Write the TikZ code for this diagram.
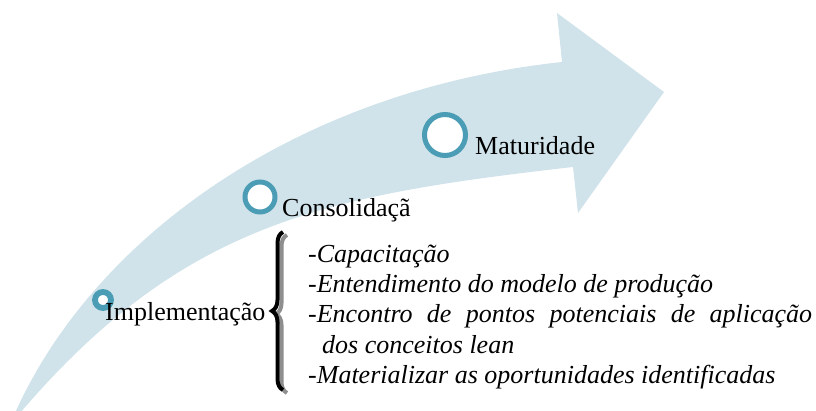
\documentclass[tikz,border=0pt]{standalone}
\usepackage{fontspec}
\setmainfont{Liberation Serif}
\newfontfamily\stagefont{Liberation Serif}
\usetikzlibrary{decorations.pathreplacing}
\definecolor{arrowblue}{HTML}{D1E3EA}
\definecolor{ringteal}{HTML}{4A9DB5}
\definecolor{braceshade}{HTML}{8E8E8E}

\begin{document}
\begin{tikzpicture}[x=1pt,y=-1pt,
    ring/.style={circle, draw=ringteal, fill=white, line width=5pt, inner sep=0pt},
    stagelabel/.style={anchor=base west, inner sep=0pt, font=\stagefont\fontsize{26}{30}\selectfont},
    listitem/.style={anchor=base west, inner sep=0pt, font=\stagefont\fontsize{26}{30}\selectfont\itshape},
    bracestroke/.style={line width=4pt, decorate, decoration={brace, amplitude=11pt}}]
    \useasboundingbox (0,0) rectangle (816,411);

    % curved arrow
    \fill[arrowblue] (562,62) -- (557,13) -- (664,92) -- (578,213) -- (573,167)
      .. controls (330,195) and (185,220) .. (20,413)
      -- (15,413)
      .. controls (95,235) and (300,90) .. (562,62)
      -- cycle;

    % stages
    \node[ring, minimum size=16pt, line width=5.8pt] (implring) at (103,300) {};
    \node[ring, minimum size=30pt] (consring) at (260,197) {};
    \node[ring, minimum size=41pt] (matring) at (445,135) {};

    \node[stagelabel] (impltext) at (105,320) {Implementação};
    \node[stagelabel] (constext) at (282,217) {Consolidaçã};
    \node[stagelabel] (mattext) at (475,155) {Maturidade};

    % brace with shadow
    \coordinate (bracetop) at (283,232);
    \coordinate (bracebot) at (283,390);
    \draw[braceshade, bracestroke] ([xshift=4pt,yshift=-3pt]bracebot) -- ([xshift=4pt,yshift=-3pt]bracetop);
    \draw[black, bracestroke] (bracebot) -- (bracetop);

    % list of actions
    \node[listitem] (capitem) at (308,263) {-Capacitação};
    \node[listitem] (entitem) at (308,293) {-Entendimento do modelo de produção};
    \node[listitem] (encitem) at (308,323) {\makebox[504pt][s]{-Encontro de pontos potenciais de aplicação}};
    \node[listitem] (dositem) at (322,353) {dos conceitos lean};
    \node[listitem] (matitem) at (308,383) {-Materializar as oportunidades identificadas};
\end{tikzpicture}
\end{document}
